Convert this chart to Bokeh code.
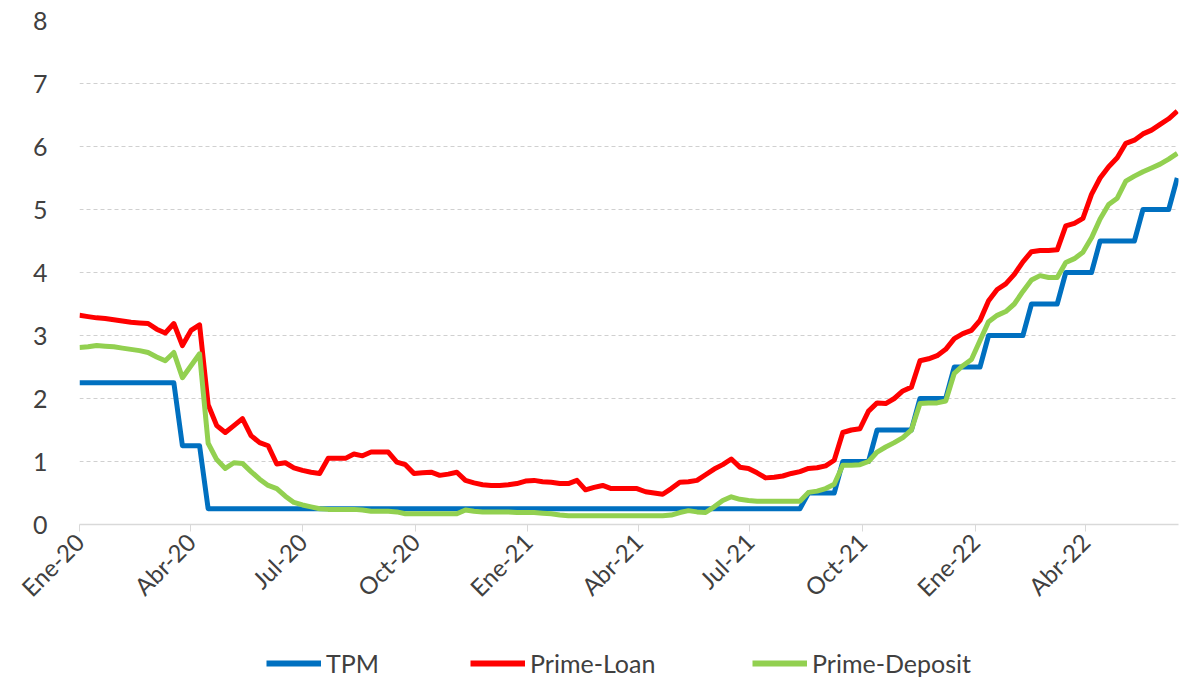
import pandas as pd
from bokeh.plotting import figure
from bokeh.layouts import column
from bokeh.models import Range1d, FixedTicker, Legend, LegendItem, ColumnDataSource
from bokeh.embed import file_html
from bokeh.resources import INLINE

# ---- data (weekly, starting 2020-01-01) ----
start = pd.Timestamp("2020-01-01")
dates = pd.date_range(start, periods=129, freq="7D")

tpm = ([2.25] * 12 + [1.25] * 3 + [0.25] * 70 + [0.5] * 4 + [1.0] * 4 + [1.5] * 5 +
       [2.0] * 4 + [2.5] * 4 + [3.0] * 5 + [3.5] * 4 + [4.0] * 4 + [4.5] * 5 + [5.0] * 4 + [5.5])

prime_loan = [3.32, 3.30, 3.28, 3.27, 3.25, 3.23, 3.21, 3.20, 3.19, 3.10,
              3.04, 3.19, 2.84, 3.08, 3.17, 1.90, 1.57, 1.46, 1.57, 1.68,
              1.41, 1.30, 1.25, 0.96, 0.98, 0.90, 0.86, 0.83, 0.81, 1.05,
              1.05, 1.05, 1.12, 1.09, 1.15, 1.15, 1.15, 0.99, 0.95, 0.81,
              0.82, 0.83, 0.78, 0.80, 0.83, 0.70, 0.66, 0.63, 0.62, 0.62,
              0.63, 0.65, 0.69, 0.70, 0.68, 0.67, 0.65, 0.65, 0.70, 0.55,
              0.59, 0.62, 0.57, 0.57, 0.57, 0.57, 0.52, 0.50, 0.48, 0.57,
              0.67, 0.68, 0.70, 0.79, 0.88, 0.95, 1.04, 0.91, 0.89, 0.82,
              0.74, 0.75, 0.77, 0.81, 0.84, 0.89, 0.90, 0.93, 1.02, 1.46,
              1.50, 1.52, 1.80, 1.93, 1.92, 2.00, 2.12, 2.18, 2.60, 2.63,
              2.68, 2.78, 2.95, 3.03, 3.08, 3.24, 3.55, 3.73, 3.82, 3.97,
              4.17, 4.33, 4.35, 4.35, 4.36, 4.74, 4.78, 4.86, 5.24, 5.50,
              5.68, 5.82, 6.05, 6.10, 6.20, 6.26, 6.35, 6.44, 6.56]

prime_deposit = [2.81, 2.82, 2.84, 2.83, 2.82, 2.80, 2.78, 2.76, 2.73, 2.66,
                 2.60, 2.73, 2.33, 2.52, 2.71, 1.29, 1.03, 0.89, 0.98, 0.97,
                 0.84, 0.72, 0.62, 0.57, 0.45, 0.35, 0.31, 0.28, 0.25, 0.24,
                 0.24, 0.24, 0.24, 0.23, 0.21, 0.21, 0.21, 0.20, 0.17, 0.17,
                 0.17, 0.17, 0.17, 0.17, 0.17, 0.23, 0.21, 0.20, 0.20, 0.20,
                 0.20, 0.19, 0.19, 0.19, 0.18, 0.17, 0.15, 0.14, 0.14, 0.14,
                 0.14, 0.14, 0.14, 0.14, 0.14, 0.14, 0.14, 0.14, 0.14, 0.15,
                 0.19, 0.22, 0.20, 0.19, 0.28, 0.38, 0.44, 0.40, 0.38, 0.37,
                 0.37, 0.37, 0.37, 0.37, 0.37, 0.51, 0.53, 0.57, 0.64, 0.94,
                 0.94, 0.95, 1.00, 1.15, 1.23, 1.30, 1.38, 1.50, 1.92, 1.93,
                 1.93, 1.96, 2.40, 2.52, 2.62, 2.92, 3.22, 3.32, 3.38, 3.50,
                 3.70, 3.88, 3.95, 3.92, 3.92, 4.16, 4.22, 4.32, 4.55, 4.85,
                 5.08, 5.18, 5.45, 5.53, 5.60, 5.66, 5.72, 5.80, 5.89]

tick_dates = ["2020-01-01", "2020-04-01", "2020-07-01", "2020-10-01", "2021-01-01",
              "2021-04-01", "2021-07-01", "2021-10-01", "2022-01-01", "2022-04-01"]
tick_labels = ["Ene-20", "Abr-20", "Jul-20", "Oct-20", "Ene-21",
               "Abr-21", "Jul-21", "Oct-21", "Ene-22", "Abr-22"]
y_ticks = [0, 1, 2, 3, 4, 5, 6, 7, 8]

series_names = ["TPM", "Prime-Loan", "Prime-Deposit"]
series_colors = ["#0070C0", "#FF0000", "#92D050"]

# ---- build ----
xdays = [(d - start).days for d in dates]
tick_pos = [(pd.Timestamp(t) - start).days for t in tick_dates]

FONT = "Lato"
TXT = "#404040"
LW = 5
FS = "25px"

p = figure(width=1180, height=622, output_backend="svg", toolbar_location=None,
           x_range=Range1d(0, xdays[-1] + 1), y_range=Range1d(0, 8),
           min_border_left=79, min_border_right=2, min_border_top=20, min_border_bottom=98)
p.outline_line_color = None

src = ColumnDataSource(dict(x=xdays, tpm=tpm, loan=prime_loan, dep=prime_deposit))
for col, color in zip(["tpm", "loan", "dep"], series_colors):
    p.line("x", col, source=src, line_color=color, line_width=LW, line_join="round")

# axes
xa = p.xaxis[0]
xa.ticker = FixedTicker(ticks=tick_pos)
xa.major_label_overrides = {t: l for t, l in zip(tick_pos, tick_labels)}
xa.major_label_orientation = 0.785398
xa.major_label_text_font = FONT
xa.major_label_text_font_size = "24px"
xa.major_label_text_color = TXT
xa.axis_line_color = "#D9D9D9"
xa.axis_line_width = 1.5
xa.major_tick_line_color = "#D9D9D9"
xa.major_tick_out = 7
xa.major_tick_in = 0
xa.minor_tick_line_color = None
xa.major_label_standoff = 6

ya = p.yaxis[0]
ya.ticker = FixedTicker(ticks=y_ticks)
ya.axis_line_color = None
ya.major_tick_line_color = None
ya.minor_tick_line_color = None
ya.major_label_text_font = FONT
ya.major_label_text_font_size = FS
ya.major_label_text_color = TXT
ya.major_label_standoff = 26

p.xgrid.grid_line_color = None
p.ygrid.ticker = FixedTicker(ticks=y_ticks[1:])
p.ygrid.grid_line_color = "#D0D0D0"
p.ygrid.grid_line_dash = "4 3"
p.ygrid.grid_line_width = 1

# ---- legend strip below the chart ----
lf = figure(width=1180, height=59, output_backend="svg", toolbar_location=None,
            x_range=Range1d(0, 1), y_range=Range1d(0, 1),
            min_border_left=79, min_border_right=2, min_border_top=0, min_border_bottom=0,
            x_axis_location=None, y_axis_location=None)
lf.outline_line_color = None
lf.grid.grid_line_color = None
nan = float("nan")
blank = ColumnDataSource(dict(x=[nan, nan], y=[nan, nan]))
legend_x = [187, 391, 673]
for name, color, lx in zip(series_names, series_colors, legend_x):
    r = lf.line("x", "y", source=blank, line_color=color, line_width=6)
    lg = Legend(items=[LegendItem(label=name, renderers=[r])], location=(lx, 3),
                orientation="horizontal", padding=0, margin=0, spacing=0,
                glyph_width=55, glyph_height=24, label_standoff=5,
                label_text_font=FONT, label_text_font_size=FS, label_text_color=TXT,
                label_height=24, border_line_color=None, background_fill_alpha=0)
    lf.add_layout(lg, "center")

layout = column(p, lf, spacing=0)
open("out.html", "w").write(file_html(layout, INLINE))
